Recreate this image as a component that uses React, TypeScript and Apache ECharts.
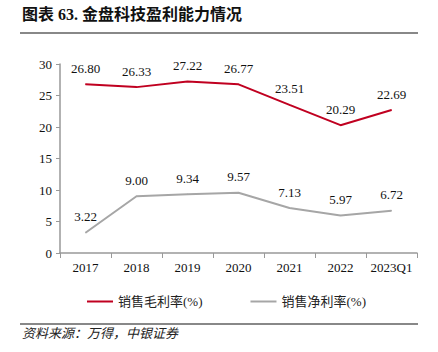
import React, { useEffect, useRef } from "react";
import * as echarts from "echarts";

const categories = ["2017", "2018", "2019", "2020", "2021", "2022", "2023Q1"];
const grossMargin = [26.8, 26.33, 27.22, 26.77, 23.51, 20.29, 22.69];
const netMargin = [3.22, 9.0, 9.34, 9.57, 7.13, 5.97, 6.72];
const yTicks = { min: 0, max: 30, interval: 5 };

const serif = "'Liberation Serif', 'Times New Roman', 'Noto Sans CJK SC', serif";

export default function App() {
  const ref = useRef<HTMLDivElement>(null);
  useEffect(() => {
    document.body.style.margin = "0";
    const chart = echarts.init(ref.current!, null, { renderer: "svg" });
    const label = {
      show: true,
      position: "top",
      distance: 9,
      color: "#111",
      fontSize: 13,
      fontFamily: serif,
      formatter: (p: any) => Number(p.value).toFixed(2),
    };
    chart.setOption({
      animation: false,
      backgroundColor: "#ffffff",
      textStyle: { fontFamily: serif },
      grid: { left: 60, right: 21, top: 64, bottom: 99 },
      legend: {
        left: 82,
        top: 290,
        itemWidth: 26,
        itemHeight: 2,
        itemGap: 48,
        icon: "rect",
        textStyle: { fontFamily: serif, fontSize: 13, color: "#222" },
        data: ["销售毛利率(%)", "销售净利率(%)"],
      },
      xAxis: {
        type: "category",
        data: categories,
        boundaryGap: true,
        axisLine: { lineStyle: { color: "#999", width: 1.5 } },
        axisTick: { show: true, alignWithLabel: false, interval: 0, length: 5, lineStyle: { color: "#999" } },
        axisLabel: { color: "#111", fontSize: 13, fontFamily: serif, margin: 8, interval: 0 },
      },
      yAxis: {
        type: "value",
        min: yTicks.min,
        max: yTicks.max,
        interval: yTicks.interval,
        splitLine: { show: false },
        axisLine: { show: true, lineStyle: { color: "#999", width: 1.5 } },
        axisTick: { show: true, length: 4, lineStyle: { color: "#999" } },
        axisLabel: { color: "#111", fontSize: 13, fontFamily: serif, margin: 8 },
      },
      series: [
        {
          name: "销售毛利率(%)",
          type: "line",
          data: grossMargin,
          symbol: "circle",
          symbolSize: 1,
          showSymbol: true,
          lineStyle: { color: "#C00020", width: 2 },
          itemStyle: { color: "#C00020" },
          label,
        },
        {
          name: "销售净利率(%)",
          type: "line",
          data: netMargin,
          symbol: "circle",
          symbolSize: 1,
          showSymbol: true,
          lineStyle: { color: "#A6A6A6", width: 2 },
          itemStyle: { color: "#A6A6A6" },
          label,
        },
      ],
      graphic: [
        {
          type: "text",
          left: 22,
          top: 6,
          style: {
            text: "图表 63. 金盘科技盈利能力情况",
            font: `bold 16px ${serif}`,
            fill: "#111",
          },
        },
        {
          type: "line",
          shape: { x1: 20, y1: 33, x2: 418, y2: 33 },
          style: { stroke: "#888", lineWidth: 2 },
        },
        {
          type: "line",
          shape: { x1: 20, y1: 324, x2: 418, y2: 324 },
          style: { stroke: "#888", lineWidth: 2 },
        },
        {
          type: "text",
          left: 22,
          top: 327,
          style: {
            text: "资料来源：万得，中银证券",
            font: `italic 13px ${serif}`,
            fill: "#222",
          },
        },
      ],
    });
    return () => chart.dispose();
  }, []);
  return <div ref={ref} style={{ width: 438, height: 352, position: "absolute", left: 0, top: 0 }} />;
}
